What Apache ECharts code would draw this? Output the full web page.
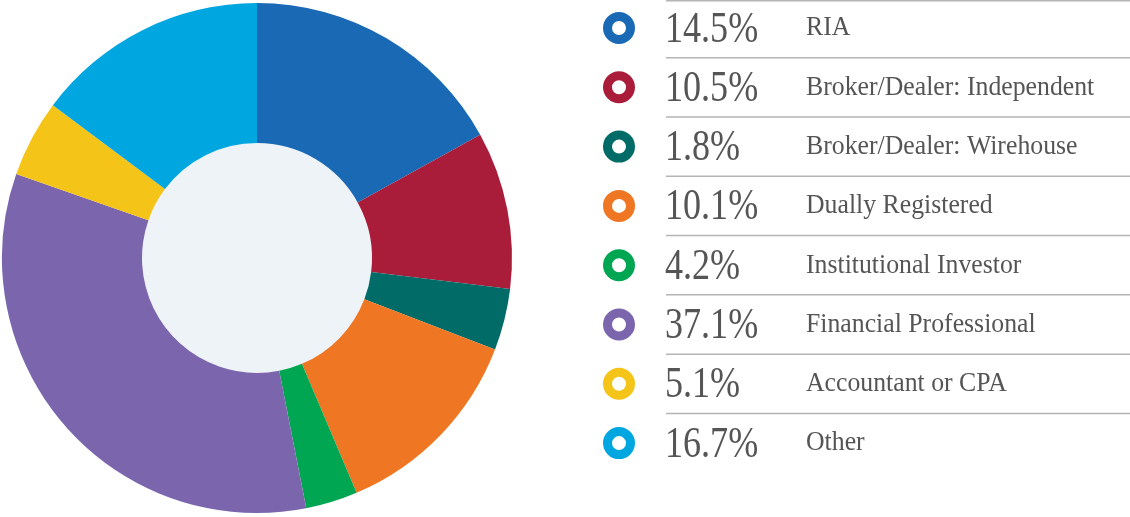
<!DOCTYPE html>
<html><head><meta charset="utf-8">
<script src="https://cdn.jsdelivr.net/npm/echarts@6/dist/echarts.min.js"></script>
<style>html,body{margin:0;padding:0;background:#fff}#c{width:1130px;height:517px}</style>
</head><body><div id="c"></div>
<script>
const categories = ['RIA','Broker/Dealer: Independent','Broker/Dealer: Wirehouse','Dually Registered','Institutional Investor','Financial Professional','Accountant or CPA','Other'];
const legendPercents = ['14.5%','10.5%','1.8%','10.1%','4.2%','37.1%','5.1%','16.7%'];
const sliceValues = [17.0, 10.0, 3.9, 12.8, 3.3, 33.5, 4.9, 14.8];
const colors = ['#1a69b5','#a91d3a','#006b67','#ef7622','#00a651','#7b66ad','#f4c418','#00a6e0'];

const chart = echarts.init(document.getElementById('c'));
const rowH = 59.3, row0 = 28;
const graphics = [];
categories.forEach((name, i) => {
  const cy = row0 + i * rowH;
  graphics.push({type:'circle', shape:{cx:619, cy:cy, r:11.5}, style:{fill:'none', stroke:colors[i], lineWidth:9}});
  graphics.push({type:'text', x:665, y:cy+2, scaleX:0.82, style:{text:legendPercents[i], font:'300 44px "Liberation Sans Narrow"', fill:'#555', verticalAlign:'middle'}});
  graphics.push({type:'text', x:806, y:cy, scaleX:0.92, style:{text:name, font:'28px "Liberation Sans Narrow"', fill:'#555', verticalAlign:'middle'}});
  if (i > 0) graphics.push({type:'line', shape:{x1:666, y1:cy - rowH/2, x2:1130, y2:cy - rowH/2}, style:{stroke:'#b5b5b5', lineWidth:1.5}});
});
graphics.push({type:'line', shape:{x1:666, y1:0.8, x2:1130, y2:0.8}, style:{stroke:'#b5b5b5', lineWidth:1.5}});
graphics.push({type:'circle', z:-1, shape:{cx:257, cy:258, r:116}, style:{fill:'#eef3f8'}});

chart.setOption({
  animation:false,
  graphic: graphics,
  series:[{
    type:'pie', center:[257,258], radius:[115,255], startAngle:90, clockwise:true,
    label:{show:false}, labelLine:{show:false}, silent:true,
    data: categories.map((n,i)=>({name:n, value:sliceValues[i], itemStyle:{color:colors[i]}}))
  }]
});
</script></body></html>
